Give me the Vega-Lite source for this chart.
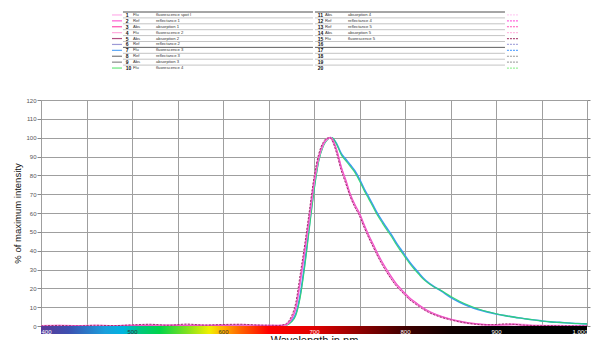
{
  "$schema": "https://vega.github.io/schema/vega-lite/v6.json",
  "padding": {"left": 12, "top": 11, "right": 0, "bottom": 0},
  "background": "white",
  "config": {"view": {"stroke": null}, "font": "Liberation Sans"},
  "bounds": "flush",
  "spacing": 29,
  "datasets": {
    "legend": [
      {"c": 1, "r": 1, "n": "1", "t": "Flu", "l": "fluorescence spot I"},
      {"c": 1, "r": 2, "n": "2", "t": "Ref", "l": "reflectance 1"},
      {"c": 1, "r": 3, "n": "3", "t": "Abs", "l": "absorption 1"},
      {"c": 1, "r": 4, "n": "4", "t": "Flu", "l": "fluorescence 2"},
      {"c": 1, "r": 5, "n": "5", "t": "Abs", "l": "absorption 2"},
      {"c": 1, "r": 6, "n": "6", "t": "Ref", "l": "reflectance 2"},
      {"c": 1, "r": 7, "n": "7", "t": "Flu", "l": "fluorescence 3"},
      {"c": 1, "r": 8, "n": "8", "t": "Ref", "l": "reflectance 3"},
      {"c": 1, "r": 9, "n": "9", "t": "Abs", "l": "absorption 3"},
      {"c": 1, "r": 10, "n": "10", "t": "Flu", "l": "fluorescence 4"},
      {"c": 2, "r": 1, "n": "11", "t": "Abs", "l": "absorption 4"},
      {"c": 2, "r": 2, "n": "12", "t": "Ref", "l": "reflectance 4"},
      {"c": 2, "r": 3, "n": "13", "t": "Ref", "l": "reflectance 5"},
      {"c": 2, "r": 4, "n": "14", "t": "Abs", "l": "absorption 5"},
      {"c": 2, "r": 5, "n": "15", "t": "Flu", "l": "fluorescence 5"},
      {"c": 2, "r": 6, "n": "16", "t": "", "l": ""},
      {"c": 2, "r": 7, "n": "17", "t": "", "l": ""},
      {"c": 2, "r": 8, "n": "18", "t": "", "l": ""},
      {"c": 2, "r": 9, "n": "19", "t": "", "l": ""},
      {"c": 2, "r": 10, "n": "20", "t": "", "l": ""}
    ],
    "cols": [{"c": 1}, {"c": 2}],
    "spectra": [
      {"wl": 400, "a": 0, "m": 0, "d": 0, "b": 0, "g": 0},
      {"wl": 420, "a": 0.2, "m": 0, "d": 0.3, "b": 0, "g": 0},
      {"wl": 440, "a": 0, "m": 0.2, "d": 0, "b": 0, "g": 0},
      {"wl": 460, "a": 0.3, "m": 0, "d": 0.4, "b": 0, "g": 0},
      {"wl": 480, "a": 0, "m": 0.1, "d": 0.2, "b": 0, "g": 0},
      {"wl": 500, "a": 0.4, "m": 0.2, "d": 0.6, "b": 0, "g": 0},
      {"wl": 520, "a": 0.6, "m": 0.3, "d": 0.9, "b": 0, "g": 0},
      {"wl": 540, "a": 0.3, "m": 0.5, "d": 0.4, "b": 0, "g": 0},
      {"wl": 560, "a": 0.7, "m": 0.2, "d": 1.0, "b": 0, "g": 0},
      {"wl": 580, "a": 0.3, "m": 0.4, "d": 0.5, "b": 0, "g": 0},
      {"wl": 600, "a": 0.5, "m": 0.3, "d": 0.8, "b": 0, "g": 0},
      {"wl": 620, "a": 0.6, "m": 0.5, "d": 0.9, "b": 0, "g": 0},
      {"wl": 640, "a": 0.2, "m": 0.3, "d": 0.5, "b": 0, "g": 0},
      {"wl": 655, "a": 0.3, "m": 0.2, "d": 0.4, "b": 0, "g": 0},
      {"wl": 660, "a": 0.2, "m": 0.2, "d": 0.3, "b": 0, "g": 0},
      {"wl": 665, "a": 0.3, "m": 0.3, "d": 0.5, "b": 0.1, "g": 0},
      {"wl": 670, "a": 0.9, "m": 0.8, "d": 1.5, "b": 0.6, "g": 0.4},
      {"wl": 675, "a": 3.8, "m": 3.5, "d": 5, "b": 2.5, "g": 2},
      {"wl": 680, "a": 10, "m": 9.5, "d": 12.5, "b": 6.5, "g": 5.5},
      {"wl": 685, "a": 24.5, "m": 24, "d": 28, "b": 17, "g": 15.5},
      {"wl": 690, "a": 41, "m": 40.5, "d": 44, "b": 34, "g": 32},
      {"wl": 695, "a": 58.5, "m": 58, "d": 61.5, "b": 54, "g": 52},
      {"wl": 700, "a": 76.5, "m": 76, "d": 79, "b": 73, "g": 71.5},
      {"wl": 705, "a": 89.5, "m": 89, "d": 91, "b": 88, "g": 87},
      {"wl": 710, "a": 96.5, "m": 96.5, "d": 97.5, "b": 95.8, "g": 95.3},
      {"wl": 715, "a": 99.5, "m": 99.5, "d": 99.8, "b": 99.3, "g": 99},
      {"wl": 718, "a": 100, "m": 100, "d": 99.8, "b": 100, "g": 99.8},
      {"wl": 720, "a": 98.8, "m": 99.3, "d": 98.5, "b": 99.8, "g": 99.9},
      {"wl": 725, "a": 92.5, "m": 93.5, "d": 91.5, "b": 96.7, "g": 96.3},
      {"wl": 730, "a": 83.5, "m": 84.5, "d": 82.5, "b": 91.5, "g": 90.8},
      {"wl": 735, "a": 76.5, "m": 77.5, "d": 75.5, "b": 88.5, "g": 87.7},
      {"wl": 740, "a": 69, "m": 70, "d": 68.5, "b": 85.5, "g": 84.6},
      {"wl": 745, "a": 63.5, "m": 64.5, "d": 63, "b": 82.3, "g": 81.4},
      {"wl": 750, "a": 59, "m": 60, "d": 58.5, "b": 78, "g": 77},
      {"wl": 755, "a": 53, "m": 54, "d": 52.5, "b": 73, "g": 72},
      {"wl": 760, "a": 47.5, "m": 48.5, "d": 47, "b": 68.5, "g": 67.5},
      {"wl": 765, "a": 42.5, "m": 43.5, "d": 42, "b": 64, "g": 63},
      {"wl": 770, "a": 37.5, "m": 38.5, "d": 37, "b": 59.5, "g": 58.5},
      {"wl": 775, "a": 33, "m": 34, "d": 32.5, "b": 55.7, "g": 54.7},
      {"wl": 780, "a": 29, "m": 30, "d": 28.5, "b": 52, "g": 51},
      {"wl": 785, "a": 25.3, "m": 26.2, "d": 24.8, "b": 48.5, "g": 47.5},
      {"wl": 790, "a": 22, "m": 22.8, "d": 21.5, "b": 44.5, "g": 43.5},
      {"wl": 795, "a": 19.3, "m": 20, "d": 18.8, "b": 41, "g": 40},
      {"wl": 800, "a": 16.8, "m": 17.4, "d": 16.4, "b": 37.5, "g": 36.6},
      {"wl": 805, "a": 14.4, "m": 15, "d": 14, "b": 34, "g": 33.2},
      {"wl": 810, "a": 12.6, "m": 13.1, "d": 12.2, "b": 31, "g": 30.2},
      {"wl": 815, "a": 10.8, "m": 11.3, "d": 10.5, "b": 28.2, "g": 27.5},
      {"wl": 820, "a": 9.2, "m": 9.7, "d": 8.9, "b": 25.5, "g": 24.9},
      {"wl": 825, "a": 7.8, "m": 8.2, "d": 7.5, "b": 23.3, "g": 22.9},
      {"wl": 830, "a": 6.6, "m": 7, "d": 6.4, "b": 21.5, "g": 21.3},
      {"wl": 840, "a": 4.8, "m": 5.1, "d": 4.6, "b": 18.5, "g": 18.8},
      {"wl": 850, "a": 3.4, "m": 3.7, "d": 3.3, "b": 15.2, "g": 15.8},
      {"wl": 860, "a": 2.3, "m": 2.6, "d": 2.2, "b": 12.6, "g": 13.2},
      {"wl": 870, "a": 1.5, "m": 1.7, "d": 1.4, "b": 10.5, "g": 11},
      {"wl": 880, "a": 0.9, "m": 1.1, "d": 0.8, "b": 8.8, "g": 9.2},
      {"wl": 890, "a": 0.5, "m": 0.7, "d": 0.6, "b": 7.5, "g": 7.7},
      {"wl": 900, "a": 0.4, "m": 0.5, "d": 0.8, "b": 6.4, "g": 6.5},
      {"wl": 910, "a": 0.8, "m": 0.6, "d": 1.1, "b": 5.5, "g": 5.5},
      {"wl": 920, "a": 1.0, "m": 0.7, "d": 0.9, "b": 4.7, "g": 4.7},
      {"wl": 930, "a": 0.6, "m": 0.4, "d": 0.5, "b": 4.0, "g": 4.0},
      {"wl": 940, "a": 0.3, "m": 0.2, "d": 0.3, "b": 3.3, "g": 3.3},
      {"wl": 950, "a": 0.2, "m": 0.1, "d": 0.2, "b": 2.7, "g": 2.7},
      {"wl": 960, "a": 0.1, "m": 0.1, "d": 0.2, "b": 2.2, "g": 2.2},
      {"wl": 970, "a": 0.1, "m": 0, "d": 0.1, "b": 1.9, "g": 1.9},
      {"wl": 980, "a": 0, "m": 0, "d": 0.1, "b": 1.6, "g": 1.6},
      {"wl": 990, "a": 0, "m": 0, "d": 0, "b": 1.3, "g": 1.3},
      {"wl": 1000, "a": 0, "m": 0, "d": 0, "b": 1.1, "g": 1.1}
    ]
  },
  "vconcat": [
    {
      "width": 546,
      "height": 59,
      "data": {"name": "legend"},
      "encoding": {
        "x": {"field": "c", "type": "quantitative", "scale": {"domain": [0.573, 3.417], "nice": false, "zero": false}, "axis": null},
        "y": {"field": "r", "type": "quantitative", "scale": {"domain": [0.5, 10.5], "reverse": true, "nice": false, "zero": false}, "axis": null}
      },
      "layer": [
        {
          "mark": {"type": "rule", "color": "#c4c4c4", "strokeWidth": 1, "yOffset": -2.95, "x2Offset": 190},
          "encoding": {"x2": {"field": "c"}}
        },
        {
          "transform": [{"filter": "datum.r == 1 || datum.r == 7"}],
          "mark": {"type": "rule", "color": "#6a6a6a", "strokeWidth": 1, "yOffset": -2.95, "x2Offset": 190},
          "encoding": {"x2": {"field": "c"}}
        },
        {
          "data": {"name": "cols"},
          "mark": {"type": "rule", "color": "#8a8a8a", "strokeWidth": 1, "x2Offset": 190},
          "encoding": {"x2": {"field": "c"}, "y": {"datum": 10.5}}
        },
        {
          "data": {"name": "cols"},
          "mark": {"type": "rule", "color": "#555555", "strokeWidth": 2.2, "xOffset": 0.8},
          "encoding": {"y": {"datum": 0.5}, "y2": {"datum": 10.5}}
        },
        {
          "data": {"name": "cols"},
          "mark": {"type": "rule", "color": "#999999", "strokeWidth": 1, "xOffset": 7.5},
          "encoding": {"y": {"datum": 0.5}, "y2": {"datum": 10.5}}
        },
        {
          "data": {"name": "cols"},
          "mark": {"type": "rule", "color": "#999999", "strokeWidth": 1, "xOffset": 30.5},
          "encoding": {"y": {"datum": 0.5}, "y2": {"datum": 10.5}}
        },
        {
          "data": {"name": "cols"},
          "mark": {"type": "rule", "color": "#777777", "strokeWidth": 1, "xOffset": 190},
          "encoding": {"y": {"datum": 0.5}, "y2": {"datum": 10.5}}
        },
        {
          "transform": [{"filter": "datum.c == 1"}],
          "mark": {"type": "rule", "strokeWidth": 1.2, "xOffset": -11, "x2Offset": -1},
          "encoding": {
            "x2": {"field": "c"},
            "color": {"field": "n", "type": "nominal", "legend": null, "scale": {"domain": ["1","2","3","4","5","6","7","8","9","10","11","12","13","14","15","16","17","18","19","20"], "range": ["#ffb0ea","#ff5fd2","#ff4fb0","#ffaadd","#b04d80","#9d9ad6","#5aa6f5","#7a7a7a","#8a8a8a","#66e67a","#ffd0f4","#ff66dd","#ff55bb","#ffbbe0","#b0557f","#aaaadd","#66aaff","#999999","#aaaaaa","#99f099"]}}
          }
        },
        {
          "transform": [{"filter": "datum.c == 2"}],
          "mark": {"type": "rule", "strokeWidth": 1.2, "strokeDash": [2, 1], "xOffset": 192, "x2Offset": 203},
          "encoding": {
            "x2": {"field": "c"},
            "color": {"field": "n", "type": "nominal", "legend": null}
          }
        },
        {
          "mark": {"type": "text", "align": "left", "baseline": "middle", "dx": 2.8, "fontSize": 5, "fontWeight": "bold", "color": "#111"},
          "encoding": {"text": {"field": "n"}}
        },
        {
          "mark": {"type": "text", "align": "left", "baseline": "middle", "dx": 10, "fontSize": 4.2, "color": "#333"},
          "encoding": {"text": {"field": "t"}}
        },
        {
          "mark": {"type": "text", "align": "left", "baseline": "middle", "dx": 33, "fontSize": 4.2, "color": "#333"},
          "encoding": {"text": {"field": "l"}}
        }
      ]
    },
    {
      "width": 546,
      "height": 226,
      "data": {"name": "spectra"},
      "resolve": {"axis": {"x": "independent", "y": "independent"}},
      "layer": [
        {
          "mark": {"type": "line", "color": "#3d9af0", "strokeWidth": 1.6, "interpolate": "monotone"},
          "encoding": {
            "x": {"field": "wl", "type": "quantitative", "scale": {"domain": [400, 1000], "nice": false, "zero": false},
              "axis": {"orient": "top", "grid": true, "labels": false, "ticks": false, "domain": false, "title": null, "values": [400,450,500,550,600,650,700,750,800,850,900,950,1000], "gridColor": "#9f9f9f", "gridWidth": 1}},
            "y": {"field": "b", "type": "quantitative", "scale": {"domain": [0, 120], "nice": false},
              "axis": {"orient": "left", "values": [0,10,20,30,40,50,60,70,80,90,100,110,120], "grid": true, "gridColor": "#9f9f9f", "gridWidth": 1, "domain": false, "tickSize": 4, "tickColor": "#888", "labelFontSize": 6, "labelColor": "#555", "labelPadding": 1, "title": "% of maximum intensity", "titleFont": "Liberation Sans Narrow, Arial Narrow, Liberation Sans", "titleFontSize": 9.5, "titleFontWeight": "normal", "titleColor": "#111", "titlePadding": 3}}
          }
        },
        {
          "mark": {"type": "line", "color": "#2ed66a", "strokeWidth": 1.1, "opacity": 0.9, "interpolate": "monotone"},
          "encoding": {
            "x": {"field": "wl", "type": "quantitative", "axis": null},
            "y": {"field": "g", "type": "quantitative", "axis": null}
          }
        },
        {
          "mark": {"type": "line", "color": "#ff9ee6", "strokeWidth": 2, "interpolate": "monotone"},
          "encoding": {
            "x": {"field": "wl", "type": "quantitative", "axis": null},
            "y": {"field": "a", "type": "quantitative", "axis": null}
          }
        },
        {
          "mark": {"type": "line", "color": "#f055c8", "strokeWidth": 1.2, "interpolate": "monotone"},
          "encoding": {
            "x": {"field": "wl", "type": "quantitative", "axis": null},
            "y": {"field": "m", "type": "quantitative", "axis": null}
          }
        },
        {
          "mark": {"type": "line", "color": "#993366", "strokeWidth": 1, "strokeDash": [2, 1.5], "interpolate": "monotone"},
          "encoding": {
            "x": {"field": "wl", "type": "quantitative", "axis": null},
            "y": {"field": "d", "type": "quantitative", "axis": null}
          }
        },
        {
          "mark": {"type": "rect", "color": {"gradient": "linear", "x1": 0, "x2": 1, "y1": 0, "y2": 0, "stops": [
            {"offset": 0, "color": "#5b3a98"},
            {"offset": 0.05, "color": "#3d4fb0"},
            {"offset": 0.117, "color": "#1a9fdc"},
            {"offset": 0.15, "color": "#00b4e0"},
            {"offset": 0.183, "color": "#00c87a"},
            {"offset": 0.217, "color": "#00d44a"},
            {"offset": 0.267, "color": "#80e020"},
            {"offset": 0.308, "color": "#f0f000"},
            {"offset": 0.333, "color": "#ffb000"},
            {"offset": 0.367, "color": "#ff6000"},
            {"offset": 0.417, "color": "#ff0000"},
            {"offset": 0.5, "color": "#e00000"},
            {"offset": 0.583, "color": "#900000"},
            {"offset": 0.667, "color": "#400000"},
            {"offset": 0.75, "color": "#100000"},
            {"offset": 0.833, "color": "#000000"},
            {"offset": 1, "color": "#000000"}
          ]}},
          "encoding": {
            "x": {"datum": 400, "type": "quantitative",
              "axis": {"orient": "bottom", "zindex": 1, "grid": false, "ticks": false, "tickSize": 0, "domain": false, "values": [400,500,600,700,800,900,1000], "labelFlush": true, "labelFontSize": 6, "labelPadding": 2, "labelColor": {"condition": {"test": "datum.value == 500 || datum.value == 600", "value": "#333333"}, "value": "#ffffff"}, "title": "Wavelength in nm", "titleFontSize": 11, "titleFontWeight": "normal", "titleColor": "#111", "titlePadding": 0.5}},
            "x2": {"datum": 1000},
            "y": {"datum": -4.2, "type": "quantitative", "scale": {"domain": [0, 120], "nice": false},
              "axis": {"orient": "right", "values": [0,10,20,30,40,50,60,70,80,90,100,110,120], "grid": false, "labels": false, "domain": false, "tickSize": 3, "tickColor": "#888", "title": null}},
            "y2": {"datum": 0}
          }
        }
      ]
    }
  ]
}
